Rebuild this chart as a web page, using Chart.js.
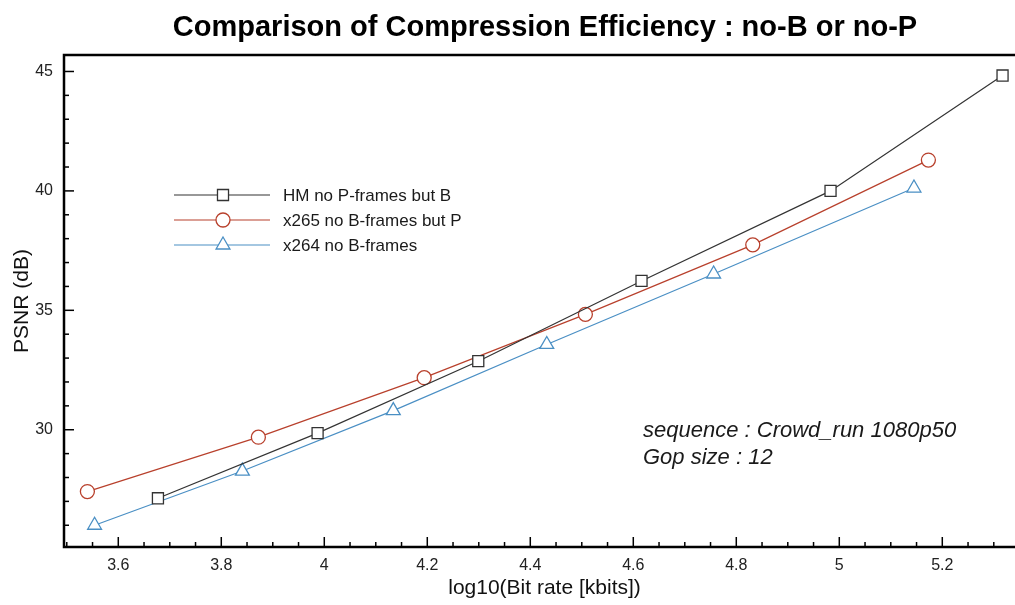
<!DOCTYPE html>
<html>
<head>
<meta charset="utf-8">
<script src="https://cdn.jsdelivr.net/npm/chart.js@4.4.1/dist/chart.umd.min.js"></script>
<style>
  html, body { margin: 0; padding: 0; background: #fff; overflow: hidden; }
  /* plot frame runs a little past the right edge of the window, as in the source */
  #wrap { width: 1025px; height: 605px; position: relative; }
</style>
</head>
<body>
<div id="wrap"><canvas id="psnrChart"></canvas></div>
<script>
// log10 bit rate (x) and PSNR in dB (y) for each encoder
const hmRate = [3.677, 3.987, 4.299, 4.616, 4.983, 5.317];
const hmPsnr = [27.13, 29.86, 32.87, 36.23, 40.0, 44.83];
const x265Rate = [3.540, 3.872, 4.194, 4.507, 4.832, 5.173];
const x265Psnr = [27.41, 29.69, 32.18, 34.83, 37.74, 41.29];
const x264Rate = [3.554, 3.841, 4.134, 4.432, 4.756, 5.145];
const x264Psnr = [26.0, 28.27, 30.8, 33.57, 36.52, 40.12];

const seriesNames = ["HM no P-frames but B", "x265 no B-frames but P", "x264 no B-frames"];
const noteLines = ["sequence : Crowd_run 1080p50", "Gop size : 12"];
const chartTitle = "Comparison of Compression Efficiency : no-B or no-P";

const FONT = "'Liberation Sans', Arial, sans-serif";

function pts(xs, ys) {
  return xs.map((x, i) => ({ x: x, y: ys[i] }));
}

function makeSet(label, xs, ys, color, style, radius) {
  return {
    label: label,
    data: pts(xs, ys),
    showLine: true,
    borderColor: color,
    borderWidth: 1.2,
    backgroundColor: "#fff",
    pointStyle: style,
    pointRadius: radius,
    pointHoverRadius: radius,
    pointBorderColor: color,
    pointBackgroundColor: "#fff",
    pointBorderWidth: 1.3,
  };
}

const datasets = [
  makeSet(seriesNames[0], hmRate, hmPsnr, "#333333", "rect", 7.8),
  makeSet(seriesNames[1], x265Rate, x265Psnr, "#b8402c", "circle", 7),
  makeSet(seriesNames[2], x264Rate, x264Psnr, "#4a8fc4", "triangle", 8),
];

function isMajor(v, step) {
  const r = v / step;
  return Math.abs(r - Math.round(r)) < 1e-6;
}

// frame, inward ticks, title, legend and note
const decorations = {
  id: "decorations",
  afterDraw(chart) {
    const ctx = chart.ctx;
    const a = chart.chartArea;
    const xs = chart.scales.x;
    const ys = chart.scales.y;
    ctx.save();
    ctx.strokeStyle = "#000";
    ctx.lineWidth = 1.5;
    xs.ticks.forEach(t => {
      const px = xs.getPixelForValue(t.value);
      const len = isMajor(t.value, 0.2) ? 10 : 5;
      ctx.beginPath();
      ctx.moveTo(px, a.bottom);
      ctx.lineTo(px, a.bottom - len);
      ctx.stroke();
    });
    ys.ticks.forEach(t => {
      const py = ys.getPixelForValue(t.value);
      const len = isMajor(t.value, 5) ? 10 : 5;
      ctx.beginPath();
      ctx.moveTo(a.left, py);
      ctx.lineTo(a.left + len, py);
      ctx.stroke();
    });
    ctx.lineWidth = 2.5;
    ctx.beginPath();
    ctx.moveTo(a.right, a.top);
    ctx.lineTo(a.left, a.top);
    ctx.lineTo(a.left, a.bottom);
    ctx.lineTo(a.right, a.bottom);
    ctx.stroke();

    // title
    ctx.fillStyle = "#000";
    ctx.font = "bold 29px " + FONT;
    ctx.textAlign = "center";
    ctx.textBaseline = "middle";
    ctx.fillText(chartTitle, 545, 28);

    // legend
    ctx.font = "17px " + FONT;
    ctx.textAlign = "left";
    chart.data.datasets.forEach((ds, i) => {
      const y = 195 + i * 25;
      ctx.strokeStyle = ds.borderColor;
      ctx.lineWidth = ds.borderWidth;
      ctx.beginPath();
      ctx.moveTo(174, y);
      ctx.lineTo(270, y);
      ctx.stroke();
      ctx.fillStyle = "#fff";
      ctx.lineWidth = ds.pointBorderWidth;
      Chart.helpers.drawPoint(ctx, {
        pointStyle: ds.pointStyle,
        radius: ds.pointRadius,
        borderWidth: ds.pointBorderWidth,
        rotation: 0,
      }, 223, y);
      ctx.fillStyle = "#1a1a1a";
      ctx.fillText(ds.label, 283, y + 1);
    });

    // note
    ctx.font = "italic 22px " + FONT;
    ctx.fillStyle = "#1a1a1a";
    noteLines.forEach((s, i) => ctx.fillText(s, 643, 431 + i * 27));
    ctx.restore();
  }
};

new Chart(document.getElementById("psnrChart"), {
  type: "scatter",
  data: { datasets: datasets },
  plugins: [decorations],
  options: {
    responsive: true,
    maintainAspectRatio: false,
    animation: false,
    layout: { autoPadding: false, padding: { top: 55, right: 0, left: 0, bottom: 0 } },
    plugins: {
      legend: { display: false },
      title: { display: false },
      tooltip: { enabled: false },
    },
    scales: {
      x: {
        type: "linear",
        min: 3.4946,
        max: 5.3606,
        grid: { display: false, drawTicks: false },
        border: { display: false },
        afterBuildTicks(scale) {
          const t = [];
          for (let k = 70; k <= 107; k++) t.push({ value: k * 0.05 });
          scale.ticks = t;
        },
        afterFit(scale) {
          scale.height = 58;
          scale.paddingLeft = 0;
          scale.paddingRight = 0;
        },
        ticks: {
          autoSkip: false,
          maxRotation: 0,
          padding: 9,
          color: "#222",
          font: { family: FONT, size: 16 },
          callback: v => isMajor(v, 0.2) ? String(Math.round(v * 10) / 10) : "",
        },
        title: {
          display: true,
          text: "log10(Bit rate [kbits])",
          color: "#111",
          font: { family: FONT, size: 21 },
          padding: { top: 0, bottom: 4 },
        },
      },
      y: {
        type: "linear",
        min: 25.09,
        max: 45.69,
        grid: { display: false, drawTicks: false },
        border: { display: false },
        afterBuildTicks(scale) {
          const t = [];
          for (let k = 26; k <= 45; k++) t.push({ value: k });
          scale.ticks = t;
        },
        afterFit(scale) { scale.width = 64; },
        ticks: {
          autoSkip: false,
          padding: 11,
          color: "#222",
          font: { family: FONT, size: 16 },
          callback: v => isMajor(v, 5) ? String(v) : "",
        },
        title: {
          display: true,
          text: "PSNR (dB)",
          color: "#111",
          font: { family: FONT, size: 21 },
          padding: { top: 10, bottom: 0 },
        },
      },
    },
  },
});
</script>
</body>
</html>
